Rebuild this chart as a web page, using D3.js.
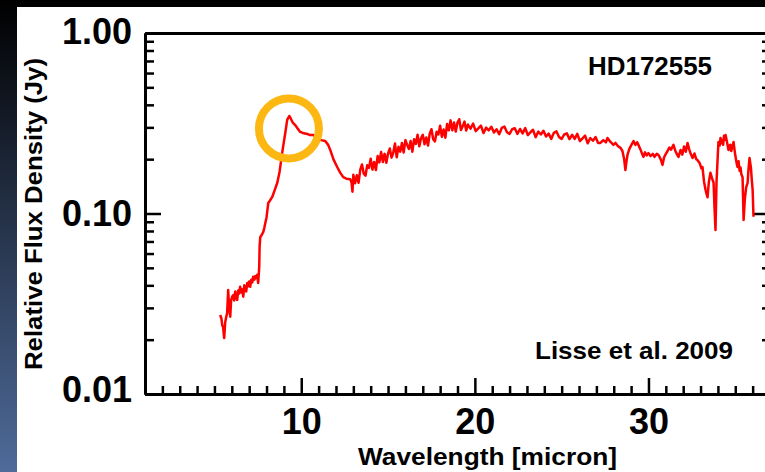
<!DOCTYPE html>
<html><head><meta charset="utf-8">
<script src="https://cdn.jsdelivr.net/npm/d3@7"></script>
<style>html,body{margin:0;padding:0;background:#000;overflow:hidden}svg{display:block}</style>
</head><body>
<script>
// ---------- data ----------
const wavelength = [
5.33,5.40,5.45,5.50,5.56,5.62,5.68,5.73,5.79,5.85,5.91,5.96,6.02,6.08,6.14,6.20,6.25,6.31,6.37,6.42,6.48,6.55,6.60,6.66,6.72,6.78,6.83,6.89,6.95,7.00,7.06,7.12,7.18,7.23,7.30,7.35,7.40,7.46,7.52,7.58,7.60,7.64,
7.72,7.81,7.87,7.93,8.00,8.10,8.20,8.33,8.45,8.62,8.75,8.90,9.00,9.08,9.19,9.31,9.40,9.50,9.65,9.80,9.94,10.15,10.35,10.50,10.69,10.85,10.98,11.15,11.38,11.55,11.67,11.85,12.07,12.25,12.42,12.60,12.82,
12.90,12.95,13.0,13.1,13.2,13.3,13.4,13.5,13.6,13.7,13.8,13.9,14.0,14.1,14.2,14.3,14.4,14.5,14.6,14.7,14.8,14.9,15.0,15.1,15.2,15.3,15.4,15.5,15.6,15.7,15.8,15.9,16.0,16.1,16.2,16.3,16.4,16.5,16.6,16.7,16.8,16.9,17.0,17.1,17.2,17.3,17.4,17.5,17.6,17.7,17.8,17.9,18.0,18.1,18.2,18.3,18.4,18.5,18.6,18.7,18.8,18.9,19.0,19.1,19.2,19.3,19.4,19.5,
19.60,19.75,19.90,20.05,20.20,20.35,20.50,20.65,20.80,20.95,21.10,21.25,21.40,21.55,21.70,21.85,22.00,22.15,22.30,22.45,22.60,22.75,22.90,23.05,23.20,23.35,23.50,23.65,23.80,23.95,24.10,24.25,24.40,24.55,24.70,24.85,25.00,25.15,25.30,25.45,25.60,25.75,25.90,26.05,26.20,26.35,26.50,26.65,26.80,26.95,27.10,
27.23,27.40,27.55,27.64,27.80,27.98,28.10,28.25,28.39,28.50,28.60,28.67,28.72,28.79,28.90,29.02,29.14,29.25,29.35,29.42,29.55,29.65,29.71,29.80,29.90,30.00,30.12,30.25,30.35,30.48,30.58,30.70,30.81,30.90,31.00,31.10,31.20,31.30,31.44,31.55,31.65,31.73,31.85,31.95,32.05,32.15,32.25,32.35,32.45,32.54,32.65,32.75,32.82,32.95,33.05,33.11,33.20,33.29,33.35,33.40,33.48,33.57,33.65,33.75,33.80,33.86,33.92,33.98,34.03,34.10,34.15,34.20,34.25,34.30,34.35,34.40,34.44,34.52,34.61,34.66,34.72,34.77,34.82,34.90,34.95,35.00,35.08,35.13,35.19,35.25,35.30,35.35,35.42,35.48,35.55,35.63,35.71,35.76,35.82,35.90,35.96,36.00,36.05
];
const fluxJy = [
0.0274,0.0262,0.0240,0.0235,0.0204,0.0250,0.0268,0.0280,0.0377,0.0300,0.0268,0.0330,0.0346,0.0353,0.0330,0.0370,0.0345,0.0332,0.0375,0.0360,0.0393,0.0365,0.0380,0.0346,0.0400,0.0385,0.0370,0.0412,0.0395,0.0420,0.0393,0.0430,0.0415,0.0446,0.0430,0.0450,0.0440,0.0457,0.0412,0.0507,0.0650,0.0740,
0.0760,0.0788,0.0830,0.0885,0.0950,0.1143,0.1180,0.1235,0.1330,0.148,0.170,0.216,0.250,0.279,0.330,0.347,0.335,0.320,0.309,0.295,0.283,0.278,0.276,0.272,0.272,0.265,0.259,0.255,0.252,0.240,0.225,0.200,0.181,0.168,0.159,0.156,0.155,
0.148,0.132,0.164,0.147,0.163,0.148,0.175,0.187,0.166,0.162,0.185,0.179,0.201,0.175,0.193,0.174,0.208,0.192,0.219,0.193,0.214,0.191,0.215,0.229,0.204,0.217,0.244,0.205,0.234,0.220,0.246,0.218,0.255,0.240,0.228,0.252,0.220,0.258,0.243,0.273,0.236,0.261,0.273,0.242,0.264,0.238,0.277,0.293,0.258,0.251,0.284,0.274,0.306,0.266,0.292,0.263,0.313,0.289,0.328,0.289,0.319,0.285,0.319,0.333,0.290,0.304,0.323,0.288,
0.311,0.295,0.315,0.286,0.296,0.307,0.279,0.299,0.289,0.302,0.281,0.293,0.275,0.298,0.303,0.282,0.276,0.293,0.297,0.276,0.294,0.278,0.297,0.272,0.282,0.291,0.265,0.284,0.274,0.287,0.267,0.277,0.259,0.280,0.285,0.265,0.259,0.274,0.278,0.258,0.273,0.259,0.276,0.252,0.261,0.270,0.245,0.262,0.253,0.265,0.246,
0.246,0.255,0.248,0.262,0.250,0.240,0.246,0.236,0.231,0.222,0.200,0.174,0.190,0.211,0.228,0.240,0.252,0.240,0.248,0.240,0.225,0.212,0.206,0.218,0.210,0.216,0.208,0.214,0.206,0.214,0.211,0.200,0.186,0.205,0.214,0.222,0.232,0.226,0.240,0.222,0.212,0.206,0.225,0.212,0.235,0.220,0.246,0.226,0.212,0.203,0.215,0.200,0.198,0.190,0.178,0.181,0.150,0.135,0.128,0.123,0.150,0.168,0.158,0.148,0.110,0.081,0.150,0.198,0.249,0.238,0.262,0.245,0.255,0.240,0.270,0.256,0.272,0.250,0.225,0.238,0.240,0.222,0.232,0.249,0.228,0.210,0.190,0.181,0.195,0.172,0.180,0.165,0.159,0.092,0.120,0.140,0.148,0.175,0.203,0.180,0.150,0.135,0.096
];
const xMajorTicks = [10, 20, 30];
const xMinorTicks = [2,3,4,5,6,7,8,9,11,12,13,14,15,16,17,18,19,21,22,23,24,25,26,27,28,29,31,32,33,34,35,36];
const yMajorTicks = [0.01, 0.1, 1];
const yTickLabels = ["0.01", "0.10", "1.00"];
const yMinorTicks = [0.02,0.03,0.04,0.05,0.06,0.07,0.08,0.09,0.2,0.3,0.4,0.5,0.6,0.7,0.8,0.9];
const highlight = [{wavelength: 9.29, flux: 0.296}];
const objectName = "HD172555";
const citation = "Lisse et al. 2009";
const xTitle = "Wavelength [micron]";
const yTitle = "Relative Flux Density (Jy)";

// ---------- drawing ----------
const W = 765, H = 472;
const FONT = "'Liberation Sans', Arial, Helvetica, sans-serif";
const svg = d3.select("body").append("svg").attr("width", W).attr("height", H);

const defs = svg.append("defs");
const grad = defs.append("linearGradient").attr("id", "bg").attr("x1", 0).attr("y1", 0).attr("x2", 0).attr("y2", 1);
grad.append("stop").attr("offset", "0%").attr("stop-color", "#000000");
grad.append("stop").attr("offset", "100%").attr("stop-color", "#4f6b9a");
svg.append("rect").attr("width", W).attr("height", H).attr("fill", "url(#bg)");
svg.append("rect").attr("x", 17).attr("y", 7).attr("width", W - 17).attr("height", H - 7).attr("fill", "#ffffff");

const x = d3.scaleLinear().domain([1, 37]).range([145, 770]);
const y = d3.scaleLog().domain([0.01, 1]).range([394, 33]);

const axisStyle = g => {
  g.selectAll("path.domain").attr("stroke", "#000").attr("stroke-width", 3);
  g.selectAll(".tick line").attr("stroke", "#000").attr("stroke-width", 2.5);
};

// bottom axis
svg.append("g").attr("transform", `translate(0,394)`)
  .call(d3.axisBottom(x).tickValues(xMinorTicks).tickSize(-8).tickSizeOuter(0).tickFormat(""))
  .call(axisStyle);
const xb = svg.append("g").attr("transform", `translate(0,394)`)
  .call(d3.axisBottom(x).tickValues(xMajorTicks).tickSize(-16).tickSizeOuter(0).tickPadding(14).tickFormat(d3.format("d")))
  .call(axisStyle);
xb.selectAll("text").attr("font-family", FONT).attr("font-weight", "bold").attr("font-size", 36)
  .attr("fill", "#000").attr("dy", null).attr("y", 40);

// left axis
svg.append("g").attr("transform", `translate(145,0)`)
  .call(d3.axisLeft(y).tickValues(yMinorTicks).tickSize(-9).tickSizeOuter(0).tickFormat(""))
  .call(axisStyle);
const yl = svg.append("g").attr("transform", `translate(145,0)`)
  .call(d3.axisLeft(y).tickValues(yMajorTicks).tickSize(-16).tickSizeOuter(0).tickPadding(13)
    .tickFormat((d, i) => yTickLabels[i]))
  .call(axisStyle);
yl.selectAll("text").attr("font-family", FONT).attr("font-weight", "bold").attr("font-size", 36)
  .attr("fill", "#000").attr("dy", null)
  .attr("y", d => (d <= 0.01 ? 7 : d >= 1 ? 10 : 12));

// right axis
svg.append("g").attr("transform", `translate(770,0)`)
  .call(d3.axisRight(y).tickValues(yMinorTicks).tickSize(-8).tickSizeOuter(0).tickFormat(""))
  .call(axisStyle);
svg.append("g").attr("transform", `translate(770,0)`)
  .call(d3.axisRight(y).tickValues(yMajorTicks).tickSize(-16).tickSizeOuter(0).tickFormat(""))
  .call(axisStyle);

// top border
svg.append("g").attr("transform", `translate(0,33)`)
  .call(d3.axisTop(x).tickValues([]).tickSizeOuter(0))
  .call(axisStyle);

// spectrum
const pts = wavelength.map((w, i) => [w, fluxJy[i]]);
svg.append("path").datum(pts)
  .attr("fill", "none").attr("stroke", "#ff0000").attr("stroke-width", 2.5)
  .attr("stroke-linejoin", "round")
  .attr("d", d3.line().x(d => x(d[0])).y(d => y(d[1])));

// highlight ring
svg.selectAll("circle.hl").data(highlight).enter().append("circle")
  .attr("class", "hl")
  .attr("cx", d => x(d.wavelength)).attr("cy", d => y(d.flux)).attr("r", 30)
  .attr("fill", "none").attr("stroke", "#fcb712").attr("stroke-width", 8);

// annotations
svg.append("text").text(objectName).attr("x", 588).attr("y", 75)
  .attr("font-family", FONT).attr("font-weight", "bold").attr("font-size", 25)
  .attr("textLength", 124).attr("lengthAdjust", "spacingAndGlyphs").attr("fill", "#000");
svg.append("text").text(citation).attr("x", 535).attr("y", 359)
  .attr("font-family", FONT).attr("font-weight", "bold").attr("font-size", 24)
  .attr("textLength", 198).attr("lengthAdjust", "spacingAndGlyphs").attr("fill", "#000");

// axis titles
svg.append("text").text(xTitle).attr("x", 358).attr("y", 465)
  .attr("font-family", FONT).attr("font-weight", "bold").attr("font-size", 23)
  .attr("textLength", 259).attr("lengthAdjust", "spacingAndGlyphs").attr("fill", "#000");
svg.append("text").text(yTitle)
  .attr("transform", "translate(41.5,370) rotate(-90)")
  .attr("font-family", FONT).attr("font-weight", "bold").attr("font-size", 23)
  .attr("textLength", 312).attr("lengthAdjust", "spacingAndGlyphs").attr("fill", "#000");
</script>
</body></html>
